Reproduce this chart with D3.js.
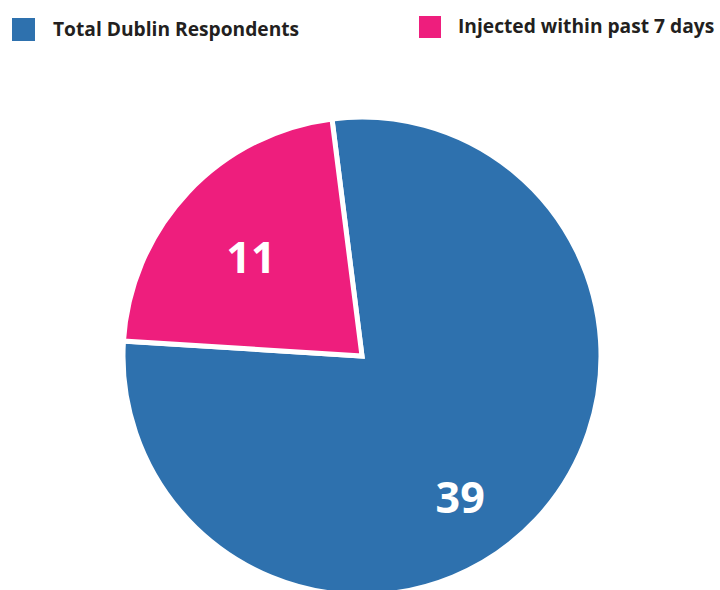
<!DOCTYPE html>
<html>
<head>
<meta charset="utf-8">
<script src="https://cdn.jsdelivr.net/npm/d3@7"></script>
<style>
  body { margin: 0; background: #fff; }
  svg { display: block; font-family: "Open Sans", sans-serif; }
</style>
</head>
<body>
<script>
const width = 720;
const height = 590;

// data
const categories = ["Total Dublin Respondents", "Injected within past 7 days"];
const values = [39, 11];
const colors = ["#2e71ae", "#ee1e7d"];

const cx = 362;
const cy = 356;
const radius = 239;

const svg = d3
  .select("body")
  .append("svg")
  .attr("width", width)
  .attr("height", height);

// legend
const legendItems = [
  { x: 12, y: 18, size: 23, tx: 53, ty: 36 },
  { x: 419, y: 16, size: 22, tx: 458, ty: 33 },
];

const legend = svg
  .append("g")
  .selectAll("g")
  .data(categories)
  .enter()
  .append("g");

legend
  .append("rect")
  .attr("x", (d, i) => legendItems[i].x)
  .attr("y", (d, i) => legendItems[i].y)
  .attr("width", (d, i) => legendItems[i].size)
  .attr("height", (d, i) => legendItems[i].size)
  .attr("fill", (d, i) => colors[i]);

legend
  .append("text")
  .attr("x", (d, i) => legendItems[i].tx)
  .attr("y", (d, i) => legendItems[i].ty)
  .attr("fill", "#231f20")
  .style("font-size", "19.2px")
  .style("font-weight", "700")
  .text((d) => d);

// pie
const pie = d3
  .pie()
  .sort(null)
  .startAngle(-0.126)
  .endAngle(-0.126 + 2 * Math.PI);

const arc = d3.arc().innerRadius(0).outerRadius(radius);

const arcs = pie(values);

const g = svg.append("g").attr("transform", `translate(${cx},${cy})`);

g.selectAll("path")
  .data(arcs)
  .enter()
  .append("path")
  .attr("d", arc)
  .attr("fill", (d, i) => colors[i])
  .attr("stroke", "#fff")
  .attr("stroke-width", 5)
  .attr("stroke-linejoin", "miter");

// labels (radius fraction and angle tweak per slice)
const labelPlace = [
  { r: 0.72, da: 0.21 },
  { r: 0.62, da: -0.03 },
];

g.selectAll("text")
  .data(arcs)
  .enter()
  .append("text")
  .attr("transform", (d, i) => {
    const a = (d.startAngle + d.endAngle) / 2 + labelPlace[i].da;
    const r = radius * labelPlace[i].r;
    return `translate(${r * Math.sin(a)},${-r * Math.cos(a)})`;
  })
  .attr("text-anchor", "middle")
  .attr("dy", "0.36em")
  .attr("fill", "#fff")
  .style("font-size", "43px")
  .style("font-weight", "700")
  .text((d) => d.data);
</script>
</body>
</html>
